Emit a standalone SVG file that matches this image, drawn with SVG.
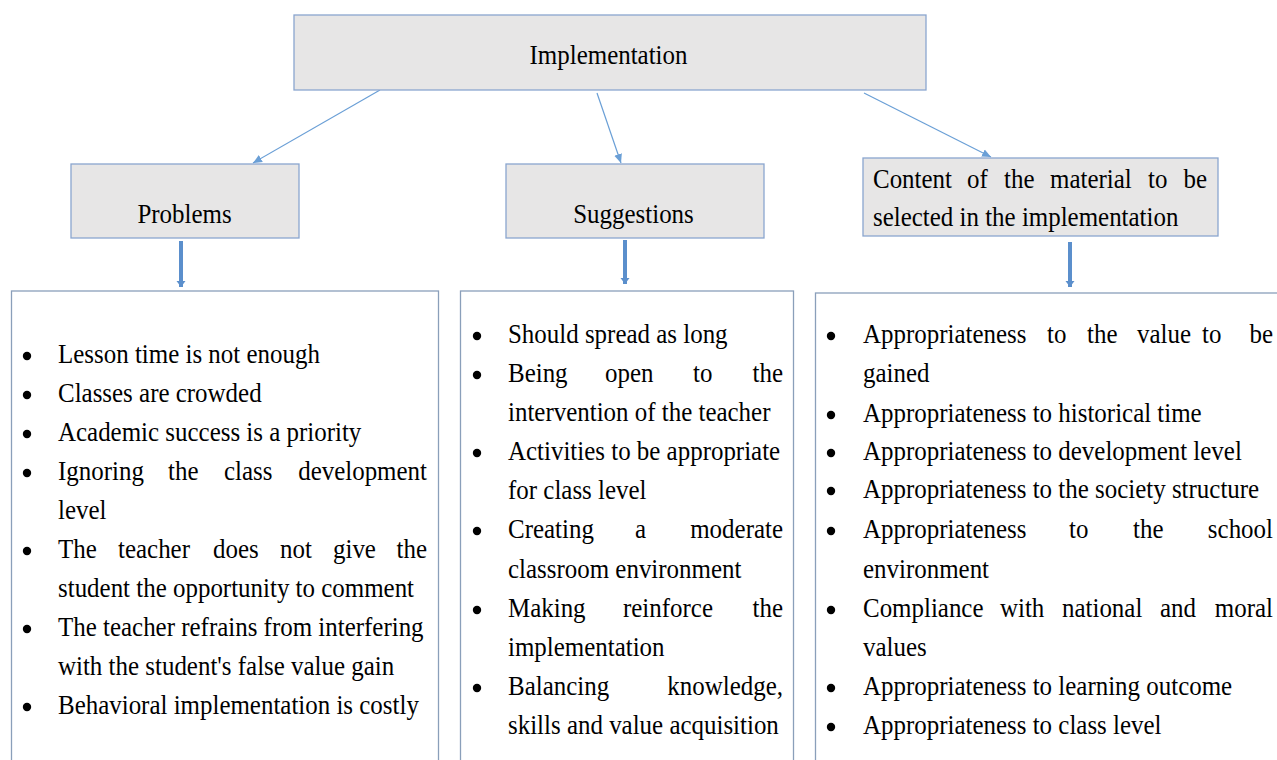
<svg xmlns="http://www.w3.org/2000/svg" width="1277" height="760" viewBox="0 0 1277 760">
<style>
.t{font-family:"Liberation Serif","Times New Roman",serif;font-size:27.5px;fill:#000}
.hd{fill:#e7e6e6;stroke:#8aa6cf;stroke-width:1.3}
.lst{fill:#fff;stroke:#8a9fba;stroke-width:1.3}
.thin{stroke:#6a9fd6;stroke-width:1.2;fill:none}
.thick{stroke:#5b8fcc;stroke-width:4;fill:none}
.b{fill:#000}
</style>
<defs>
<marker id="ah" markerWidth="10" markerHeight="10" refX="9" refY="5" orient="auto" markerUnits="userSpaceOnUse">
<path d="M0,1 L9,5 L0,9 Z" fill="#6a9fd6"/>
</marker>
<marker id="ahk" markerWidth="12" markerHeight="12" refX="6" refY="6" orient="auto" markerUnits="userSpaceOnUse">
<path d="M0,1.5 L6,6 L0,10.5 Z" fill="#5b8fcc"/>
</marker>
</defs>
<rect width="1277" height="760" fill="#fff"/>

<g id="connectors">
<line class="thin" x1="380" y1="90" x2="253" y2="163" marker-end="url(#ah)"/>
<line class="thin" x1="597" y1="93" x2="621" y2="163" marker-end="url(#ah)"/>
<line class="thin" x1="864" y1="93" x2="991" y2="157" marker-end="url(#ah)"/>
<line class="thick" x1="181" y1="241" x2="181" y2="287" marker-end="url(#ahk)"/>
<line class="thick" x1="625" y1="240" x2="625" y2="284" marker-end="url(#ahk)"/>
<line class="thick" x1="1070" y1="242" x2="1070" y2="287" marker-end="url(#ahk)"/>
</g>

<g id="implementation">
<rect class="hd" x="294" y="15" width="632" height="75"/>
<text class="t" text-anchor="middle" transform="translate(608.5 64) scale(0.907 1)">Implementation</text>
</g>

<g id="problems">
<rect class="hd" x="71" y="164" width="228" height="74"/>
<text class="t" text-anchor="middle" transform="translate(184.5 223) scale(0.907 1)">Problems</text>
</g>

<g id="suggestions">
<rect class="hd" x="506" y="164" width="258" height="74"/>
<text class="t" text-anchor="middle" transform="translate(633.5 223) scale(0.907 1)">Suggestions</text>
</g>

<g id="content">
<rect class="hd" x="863" y="158" width="355" height="78"/>
<text class="t" transform="translate(873 188) scale(0.907 1)">Content</text>
<text class="t" transform="translate(967 188) scale(0.907 1)">of</text>
<text class="t" transform="translate(1004 188) scale(0.907 1)">the</text>
<text class="t" transform="translate(1050 188) scale(0.907 1)">material</text>
<text class="t" transform="translate(1148 188) scale(0.907 1)">to</text>
<text class="t" text-anchor="end" transform="translate(1207 188) scale(0.907 1)">be</text>
<text class="t" transform="translate(873 226) scale(0.907 1)">selected in the implementation</text>
</g>

<g id="problems-list">
<rect class="lst" x="11.5" y="291" width="427" height="480"/>
<circle class="b" cx="27" cy="356" r="4.2"/>
<circle class="b" cx="27" cy="395" r="4.2"/>
<circle class="b" cx="27" cy="434" r="4.2"/>
<circle class="b" cx="27" cy="473" r="4.2"/>
<circle class="b" cx="27" cy="551" r="4.2"/>
<circle class="b" cx="27" cy="629" r="4.2"/>
<circle class="b" cx="27" cy="707" r="4.2"/>
<text class="t" transform="translate(58 363) scale(0.907 1)">Lesson time is not enough</text>
<text class="t" transform="translate(58 402) scale(0.907 1)">Classes are crowded</text>
<text class="t" transform="translate(58 441) scale(0.907 1)">Academic success is a priority</text>
<text class="t" transform="translate(58 480) scale(0.907 1)">Ignoring</text>
<text class="t" transform="translate(168 480) scale(0.907 1)">the</text>
<text class="t" transform="translate(224 480) scale(0.907 1)">class</text>
<text class="t" text-anchor="end" transform="translate(427 480) scale(0.907 1)">development</text>
<text class="t" transform="translate(58 519) scale(0.907 1)">level</text>
<text class="t" transform="translate(58 558) scale(0.907 1)">The</text>
<text class="t" transform="translate(118 558) scale(0.907 1)">teacher</text>
<text class="t" transform="translate(213 558) scale(0.907 1)">does</text>
<text class="t" transform="translate(280 558) scale(0.907 1)">not</text>
<text class="t" transform="translate(333 558) scale(0.907 1)">give</text>
<text class="t" text-anchor="end" transform="translate(427 558) scale(0.907 1)">the</text>
<text class="t" transform="translate(58 597) scale(0.907 1)">student the opportunity to comment</text>
<text class="t" transform="translate(58 636) scale(0.907 1)">The teacher refrains from interfering</text>
<text class="t" transform="translate(58 675) scale(0.907 1)">with the student's false value gain</text>
<text class="t" transform="translate(58 714) scale(0.907 1)">Behavioral implementation is costly</text>
</g>

<g id="suggestions-list">
<rect class="lst" x="460.5" y="291" width="333" height="480"/>
<circle class="b" cx="477" cy="336" r="4.2"/>
<circle class="b" cx="477" cy="375" r="4.2"/>
<circle class="b" cx="477" cy="453" r="4.2"/>
<circle class="b" cx="477" cy="531" r="4.2"/>
<circle class="b" cx="477" cy="610" r="4.2"/>
<circle class="b" cx="477" cy="688" r="4.2"/>
<text class="t" transform="translate(508 343) scale(0.907 1)">Should spread as long</text>
<text class="t" transform="translate(508 382) scale(0.907 1)">Being</text>
<text class="t" transform="translate(605 382) scale(0.907 1)">open</text>
<text class="t" transform="translate(693 382) scale(0.907 1)">to</text>
<text class="t" text-anchor="end" transform="translate(783 382) scale(0.907 1)">the</text>
<text class="t" transform="translate(508 421) scale(0.907 1)">intervention of the teacher</text>
<text class="t" transform="translate(508 460) scale(0.907 1)">Activities to be appropriate</text>
<text class="t" transform="translate(508 499) scale(0.907 1)">for class level</text>
<text class="t" transform="translate(508 538) scale(0.907 1)">Creating</text>
<text class="t" transform="translate(635 538) scale(0.907 1)">a</text>
<text class="t" text-anchor="end" transform="translate(783 538) scale(0.907 1)">moderate</text>
<text class="t" transform="translate(508 578) scale(0.907 1)">classroom environment</text>
<text class="t" transform="translate(508 617) scale(0.907 1)">Making</text>
<text class="t" transform="translate(623 617) scale(0.907 1)">reinforce</text>
<text class="t" text-anchor="end" transform="translate(783 617) scale(0.907 1)">the</text>
<text class="t" transform="translate(508 656) scale(0.907 1)">implementation</text>
<text class="t" transform="translate(508 695) scale(0.907 1)">Balancing</text>
<text class="t" text-anchor="end" transform="translate(783 695) scale(0.907 1)">knowledge,</text>
<text class="t" transform="translate(508 734) scale(0.907 1)">skills and value acquisition</text>
</g>

<g id="content-list">
<rect class="lst" x="815.5" y="293" width="480" height="480"/>
<circle class="b" cx="831" cy="336" r="4.2"/>
<circle class="b" cx="831" cy="415" r="4.2"/>
<circle class="b" cx="831" cy="453" r="4.2"/>
<circle class="b" cx="831" cy="491" r="4.2"/>
<circle class="b" cx="831" cy="531" r="4.2"/>
<circle class="b" cx="831" cy="610" r="4.2"/>
<circle class="b" cx="831" cy="688" r="4.2"/>
<circle class="b" cx="831" cy="727" r="4.2"/>
<text class="t" transform="translate(863 343) scale(0.907 1)">Appropriateness</text>
<text class="t" transform="translate(1047 343) scale(0.907 1)">to</text>
<text class="t" transform="translate(1087 343) scale(0.907 1)">the</text>
<text class="t" transform="translate(1137 343) scale(0.907 1)">value</text>
<text class="t" transform="translate(1202 343) scale(0.907 1)">to</text>
<text class="t" text-anchor="end" transform="translate(1273 343) scale(0.907 1)">be</text>
<text class="t" transform="translate(863 382) scale(0.907 1)">gained</text>
<text class="t" transform="translate(863 422) scale(0.907 1)">Appropriateness to historical time</text>
<text class="t" transform="translate(863 460) scale(0.907 1)">Appropriateness to development level</text>
<text class="t" transform="translate(863 498) scale(0.907 1)">Appropriateness to the society structure</text>
<text class="t" transform="translate(863 538) scale(0.907 1)">Appropriateness</text>
<text class="t" transform="translate(1069 538) scale(0.907 1)">to</text>
<text class="t" transform="translate(1133 538) scale(0.907 1)">the</text>
<text class="t" text-anchor="end" transform="translate(1273 538) scale(0.907 1)">school</text>
<text class="t" transform="translate(863 578) scale(0.907 1)">environment</text>
<text class="t" transform="translate(863 617) scale(0.907 1)">Compliance</text>
<text class="t" transform="translate(1000 617) scale(0.907 1)">with</text>
<text class="t" transform="translate(1062 617) scale(0.907 1)">national</text>
<text class="t" transform="translate(1160 617) scale(0.907 1)">and</text>
<text class="t" text-anchor="end" transform="translate(1273 617) scale(0.907 1)">moral</text>
<text class="t" transform="translate(863 656) scale(0.907 1)">values</text>
<text class="t" transform="translate(863 695) scale(0.907 1)">Appropriateness to learning outcome</text>
<text class="t" transform="translate(863 734) scale(0.907 1)">Appropriateness to class level</text>
</g>
</svg>
